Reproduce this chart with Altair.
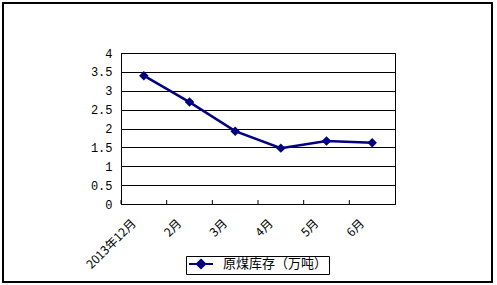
import altair as alt
import pandas as pd

categories = ["2013年12月", "2月", "3月", "4月", "5月", "6月"]
values = [3.4, 2.7, 1.93, 1.48, 1.67, 1.62]
series_name = "原煤库存（万吨）"

df = pd.DataFrame({"month": categories, "value": values, "series": series_name})

FONT = "Noto Sans CJK SC"
NAVY = "#000080"

xenc = alt.X("month:N", sort=categories,
             scale=alt.Scale(paddingInner=0, paddingOuter=0),
             axis=alt.Axis(title=None, labelAngle=-45, labelAlign="right",
                           labelBaseline="middle", labelOffset=-10, labelPadding=17,
                           ticks=False, domain=True, domainColor="black",
                           labelFont=FONT, labelFontSize=12, labelColor="black"))
yenc = alt.Y("value:Q", scale=alt.Scale(domain=[0, 4], nice=False),
             axis=alt.Axis(title=None, values=[0, 0.5, 1, 1.5, 2, 2.5, 3, 3.5, 4],
                           labelExpr="datum.value + ''",
                           ticks=False, domain=True, domainColor="black",
                           grid=True, gridColor="black", gridOpacity=1, gridWidth=1,
                           labelFont="Liberation Mono", labelFontSize=12,
                           labelColor="black", labelPadding=9))

color = alt.Color("series:N", scale=alt.Scale(range=[NAVY]),
                  legend=alt.Legend(title=None, orient="none", legendX=65, legendY=203,
                                    strokeColor="black", padding=1,
                                    symbolType="M-2,0H2M0,-0.7L0.7,0L0,0.7L-0.7,0Z",
                                    symbolSize=144, symbolStrokeWidth=2,
                                    symbolOffset=7,
                                    symbolFillColor=NAVY, symbolStrokeColor=NAVY,
                                    labelFont=FONT, labelFontSize=13, labelColor="black",
                                    labelOffset=15, labelLimit=300))

line = alt.Chart(df).mark_line(strokeWidth=2.5, point=alt.OverlayMarkDef(shape="diamond", size=90, filled=True, opacity=1)).encode(
    x=xenc, y=yenc, color=color)

ticks = alt.Chart(df).mark_rule(color="black", strokeWidth=1).encode(
    x=alt.X("month:N", sort=categories, bandPosition=0),
    y=alt.value(147), y2=alt.value(151))

frame = alt.Chart(df).mark_rect(fill=None, stroke="black", strokeWidth=1.2).encode(
    x=alt.value(3 - 121), x2=alt.value(492 - 121),
    y=alt.value(3 - 53), y2=alt.value(282 - 53))

chart = alt.layer(ticks, line, frame).properties(
    width=274, height=151,
    padding={"left": 121, "top": 53, "right": 102, "bottom": 81},
    autosize=alt.AutoSizeParams(type="none"),
    background="white",
).configure_view(stroke="black", strokeWidth=1)

chart.save("out.html", embed_options={"renderer": "svg", "actions": False})
